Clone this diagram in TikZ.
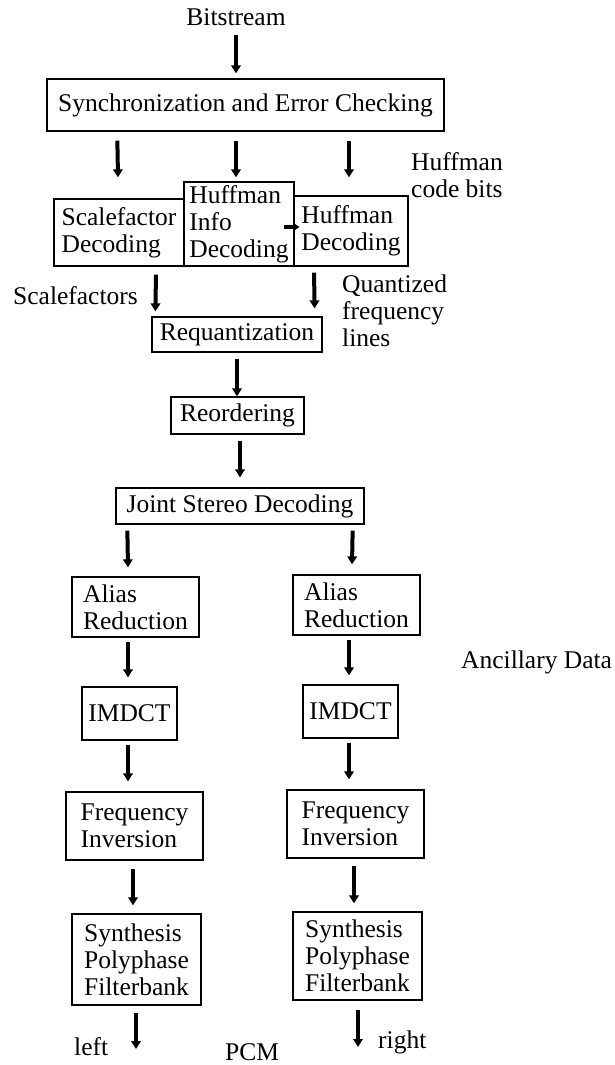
\documentclass[tikz,border=0pt]{standalone}
\usepackage{fontspec}
\setmainfont{Liberation Serif}
\usetikzlibrary{arrows.meta,calc}
\begin{document}
\begin{tikzpicture}[x=1pt,y=-1pt,
  every node/.style={inner sep=0pt, font=\fontsize{25.5}{27}\selectfont},
  blk/.style={draw, line width=1.3pt, align=left},
  lbl/.style={align=left},
  arr/.style={line width=4pt, -{Triangle[width=9.5pt,length=8pt]}},
  arrs/.style={line width=3.4pt, -{Triangle[width=8pt,length=6pt]}}]
\useasboundingbox[fill=white] (0,0) rectangle (614,1065);

% input and side labels
\node (bt) at (236,17) {Bitstream};
\node[lbl, anchor=west] (hcb) at (411,175) {Huffman\\code bits};
\node[lbl, anchor=west] (sf) at (13,296) {Scalefactors};
\node[lbl, anchor=west] (qfl) at (342,311) {Quantized\\frequency\\lines};
\node[lbl, anchor=west] (anc) at (461,662) {Ancillary Data};
\node[anchor=west] (lft) at (74,1047) {left};
\node[anchor=west] (pcm) at (225,1052) {PCM};
\node[anchor=west] (rgt) at (378,1042) {right};

% processing blocks
\node[blk, minimum width=397, minimum height=52] (sync) at (245.5,105) {Synchronization and Error Checking};
\node[blk, minimum width=130, minimum height=67] (sfd) at (119,232.5) {Scalefactor\\Decoding};
\node[blk, minimum width=110, minimum height=84] (hid) at (239,224) {Huffman\\Info\\Decoding};
\node[blk, minimum width=114, minimum height=70] (hd) at (351,231) {Huffman\\Decoding};
\node[blk, minimum width=170, minimum height=35] (req) at (237,334.5) {Requantization};
\node[blk, minimum width=133, minimum height=37] (reo) at (237.5,415.5) {Reordering};
\node[blk, minimum width=248, minimum height=36] (jsd) at (240,506) {Joint Stereo Decoding};

\node[blk, minimum width=127, minimum height=60] (alL) at (135.5,607) {Alias\\Reduction};
\node[blk, minimum width=127, minimum height=60] (alR) at (356.5,605) {Alias\\Reduction};
\node[blk, minimum width=95, minimum height=53] (imL) at (129.5,713.5) {IMDCT};
\node[blk, minimum width=95, minimum height=53] (imR) at (350.5,711.5) {IMDCT};
\node[blk, minimum width=137, minimum height=68] (frL) at (134.5,826) {Frequency\\Inversion};
\node[blk, minimum width=137, minimum height=68] (frR) at (355.5,824) {Frequency\\Inversion};
\node[blk, minimum width=129, minimum height=91] (syL) at (136.5,959.5) {Synthesis\\Polyphase\\Filterbank};
\node[blk, minimum width=129, minimum height=88] (syR) at (357.5,956) {Synthesis\\Polyphase\\Filterbank};

\coordinate (outL) at (136,1049);
\coordinate (outR) at (358,1047);

% connectors
\draw[arr] (bt.south |- 0,35) -- ($(bt.south |- sync.north)+(0,-5)$);
\draw[arr] ($(sync.south west)+(71,9)$) -- ($(sfd.north)+(-1,-21)$);
\draw[arr] ($(sync.south)+(-9.5,9)$) -- ($(hid.north)+(-3,-4)$);
\draw[arr] ($(sync.south)+(103.5,9)$) -- ($(hd.north)+(-2,-18)$);
\draw[arrs] ($(hid.east)+(-11,3)$) -- ($(hd.west)+(6,-4)$);
\draw[arr] ($(sfd.south)+(37,8)$) -- ($(req.north west)+(4,-5)$);
\draw[arr] ($(hd.south)+(-37,6)$) -- ($(req.north east)+(-8,-8)$);
\draw[arr] ($(req.south)+(0,6)$) -- ($(reo.north)+(-0.5,0)$);
\draw[arr] ($(reo.south)+(2.5,6)$) -- ($(jsd.north)+(0,-10)$);
\draw[arr] ($(jsd.south west)+(12,6)$) -- ($(alL.north)+(-7.5,-9)$);
\draw[arr] ($(jsd.south east)+(-12,6)$) -- ($(alR.north)+(-4.5,-10)$);
\draw[arr] ($(alL.south)+(-7.5,4)$) -- ($(imL.north)+(-1.5,-9)$);
\draw[arr] ($(alR.south)+(-7.5,4)$) -- ($(imR.north)+(-1.5,-9)$);
\draw[arr] ($(imL.south)+(-1.5,4)$) -- ($(frL.north)+(-6.5,-10)$);
\draw[arr] ($(imR.south)+(-1.5,4)$) -- ($(frR.north)+(-6.5,-10)$);
\draw[arr] ($(frL.south)+(-1.5,8)$) -- ($(syL.north)+(-3.5,-8)$);
\draw[arr] ($(frR.south)+(-1.5,7)$) -- ($(syR.north)+(-3.5,-8)$);
\draw[arr] ($(syL.south)+(-0.5,7)$) -- (outL);
\draw[arr] ($(syR.south)+(0.5,9)$) -- (outR);
\end{tikzpicture}
\end{document}
